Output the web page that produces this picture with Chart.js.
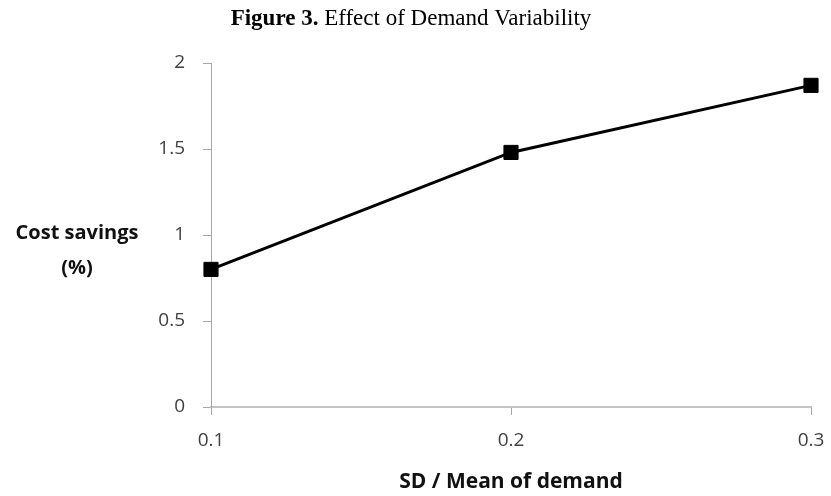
<!DOCTYPE html>
<html>
<head>
<meta charset="utf-8">
<script src="https://cdn.jsdelivr.net/npm/chart.js@4"></script>
<style>
  html, body { margin: 0; padding: 0; background: #fff; }
  #wrap { width: 831px; height: 496px; position: relative; }
</style>
</head>
<body>
<div id="wrap"><canvas id="c" width="831" height="496"></canvas></div>
<script>
const categories = ['0.1', '0.2', '0.3'];
const costSavings = [0.80, 1.48, 1.87];
const yTicks = [0, 0.5, 1, 1.5, 2];

const titleBold = 'Figure 3.';
const titleRest = ' Effect of Demand Variability';
const yLabelLines = ['Cost savings', '(%)'];
const xLabel = 'SD / Mean of demand';

const sansFont = '"Open Sans", "Noto Sans", sans-serif';

const textPlugin = {
  id: 'textPlugin',
  afterDraw(chart) {
    const ctx = chart.ctx;
    ctx.save();
    // title
    ctx.textBaseline = 'alphabetic';
    ctx.fillStyle = '#000';
    const boldFont = 'bold 23px "Liberation Serif", "Times New Roman", serif';
    const normFont = '23px "Liberation Serif", "Times New Roman", serif';
    ctx.font = boldFont;
    const w1 = ctx.measureText(titleBold).width;
    ctx.font = normFont;
    const w2 = ctx.measureText(titleRest).width;
    const startX = 411 - (w1 + w2) / 2;
    ctx.font = boldFont;
    ctx.textAlign = 'left';
    ctx.fillText(titleBold, startX, 25);
    ctx.font = normFont;
    ctx.fillText(titleRest, startX + w1, 25);

    // y label
    ctx.font = 'bold 20px ' + sansFont;
    ctx.textAlign = 'center';
    ctx.textBaseline = 'middle';
    ctx.fillStyle = '#111';
    ctx.fillText(yLabelLines[0], 77, 233);
    ctx.fillText(yLabelLines[1], 77, 268);

    // x label
    ctx.font = 'bold 21px ' + sansFont;
    const ca = chart.chartArea;
    ctx.fillText(xLabel, (ca.left + ca.right) / 2, 482);
    ctx.restore();
  }
};

new Chart(document.getElementById('c'), {
  type: 'line',
  data: {
    labels: categories,
    datasets: [{
      data: costSavings,
      borderColor: '#000',
      borderWidth: 3,
      backgroundColor: '#000',
      pointStyle: 'rect',
      pointRadius: 10,
      pointBorderWidth: 1,
      pointBackgroundColor: '#000',
      pointBorderColor: '#000',
      tension: 0,
      fill: false
    }]
  },
  options: {
    responsive: false,
    animation: false,
    devicePixelRatio: 1,
    layout: { padding: { top: 63, right: 20, left: 0, bottom: 0 } },
    plugins: {
      legend: { display: false },
      title: { display: false },
      tooltip: { enabled: false }
    },
    scales: {
      x: {
        type: 'category',
        offset: false,
        afterFit(scale) {
          scale.height = 89;
          scale.paddingLeft = 0;
          scale.paddingRight = 0;
        },
        grid: {
          display: true,
          drawOnChartArea: false,
          drawTicks: true,
          tickLength: 8,
          color: '#a6a6a6',
          lineWidth: 1
        },
        border: { display: true, color: '#c4c4c4', width: 2 },
        ticks: {
          color: '#404040',
          font: { family: sansFont, size: 19 },
          padding: 14,
          maxRotation: 0
        }
      },
      y: {
        type: 'linear',
        min: 0,
        max: 2,
        afterFit(scale) {
          scale.width = 211;
          scale.paddingTop = 0;
          scale.paddingBottom = 0;
        },
        afterBuildTicks(scale) { scale.ticks = yTicks.map(v => ({ value: v })); },
        grid: {
          display: true,
          drawOnChartArea: false,
          drawTicks: true,
          tickLength: 8,
          color: '#a6a6a6',
          lineWidth: 1
        },
        border: { display: true, color: '#a6a6a6', width: 1 },
        ticks: {
          color: '#404040',
          font: { family: sansFont, size: 19 },
          padding: 18,
          callback: (v) => String(v)
        }
      }
    }
  },
  plugins: [textPlugin]
});
</script>
</body>
</html>
